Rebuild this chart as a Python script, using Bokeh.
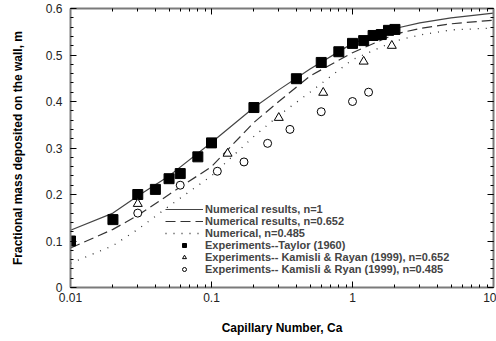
from bokeh.plotting import figure
from bokeh.models import (Range1d, FixedTicker, LinearAxis, LogAxis, Legend, LegendItem)
from bokeh.embed import file_html
from bokeh.resources import INLINE

# Numerical curves
ca_curve = [0.01, 0.02, 0.03, 0.05, 0.1, 0.2, 0.3, 0.5, 1, 2, 3, 5, 10]
m_n1 = [0.123, 0.160, 0.197, 0.240, 0.312, 0.387, 0.425, 0.470, 0.525, 0.557, 0.569, 0.580, 0.590]
m_n0652 = [0.085, 0.125, 0.155, 0.200, 0.260, 0.355, 0.400, 0.455, 0.505, 0.545, 0.557, 0.567, 0.575]
m_n0485 = [0.052, 0.090, 0.125, 0.175, 0.240, 0.325, 0.370, 0.420, 0.490, 0.530, 0.543, 0.554, 0.558]

# Experiments -- Taylor (1960)
ca_taylor = [0.01, 0.02, 0.03, 0.04, 0.05, 0.06, 0.08, 0.1, 0.2, 0.4, 0.6, 0.8, 1.0, 1.2, 1.4, 1.6, 1.8, 2.0]
m_taylor = [0.100, 0.146, 0.200, 0.211, 0.234, 0.245, 0.281, 0.311, 0.387, 0.449, 0.484, 0.507, 0.525, 0.531, 0.542, 0.544, 0.553, 0.555]

# Experiments -- Kamisli & Rayan (1999), n=0.652
ca_k652 = [0.03, 0.13, 0.3, 0.62, 1.2, 1.9]
m_k652 = [0.180, 0.288, 0.365, 0.419, 0.486, 0.520]

# Experiments -- Kamisli & Ryan (1999), n=0.485
ca_k485 = [0.03, 0.06, 0.11, 0.17, 0.25, 0.36, 0.6, 1.0, 1.3]
m_k485 = [0.160, 0.220, 0.250, 0.270, 0.310, 0.340, 0.378, 0.400, 0.420]

x_ticks = [0.01, 0.1, 1, 10]
x_tick_labels = ["0.01", "0.1", "1", "10"]
y_ticks = [0, 0.1, 0.2, 0.3, 0.4, 0.5, 0.6]
y_tick_labels = ["0", "0.1", "0.2", "0.3", "0.4", "0.5", "0.6"]

labels = ["Numerical results, n=1", "Numerical results, n=0.652", "Numerical, n=0.485",
          "Experiments--Taylor (1960)", "Experiments-- Kamisli & Rayan (1999), n=0.652",
          "Experiments-- Kamisli & Ryan (1999), n=0.485"]

FONT = "Liberation Sans"
AX = "#7a7a7a"

p = figure(width=496, height=341, x_axis_type="log", output_backend="svg",
           toolbar_location=None, x_range=Range1d(0.01, 10), y_range=Range1d(0, 0.6),
           min_border_left=70, min_border_right=3, min_border_top=8, min_border_bottom=54,
           x_axis_label="Capillary Number, Ca",
           y_axis_label="Fractional mass deposited on the wall, m")
p.grid.visible = False
p.outline_line_color = None

minor_x = [m * 10.0 ** e for e in (-2, -1, 0) for m in range(2, 10)]
minor_y = [round(i * 0.02, 2) for i in range(31)]


def style(ax):
    ax.axis_line_color = AX
    ax.axis_line_width = 2
    ax.major_tick_in = 6
    ax.major_tick_out = 0
    ax.minor_tick_in = 3
    ax.minor_tick_out = 0
    ax.major_tick_line_color = "black"
    ax.minor_tick_line_color = "black"
    ax.major_label_text_font = FONT
    ax.major_label_text_font_size = "12px"
    ax.major_label_text_color = "#222222"
    ax.axis_label_text_font = FONT
    ax.axis_label_text_font_size = "12px"
    ax.axis_label_text_font_style = "bold"
    ax.axis_label_text_color = "black"


p.xaxis.ticker = FixedTicker(ticks=x_ticks, minor_ticks=minor_x)
p.xaxis.major_label_overrides = dict(zip(x_ticks, x_tick_labels))
p.xaxis.major_label_standoff = 5
p.xaxis.axis_label_standoff = 16
p.yaxis.ticker = FixedTicker(ticks=y_ticks, minor_ticks=minor_y)
p.yaxis.major_label_overrides = dict(zip(y_ticks, y_tick_labels))
p.yaxis.major_label_standoff = 8
p.yaxis.axis_label_standoff = 18
style(p.xaxis[0])
style(p.yaxis[0])

top = LogAxis(ticker=FixedTicker(ticks=x_ticks, minor_ticks=minor_x))
style(top)
top.major_label_text_font_size = "1px"
top.major_label_text_alpha = 0
top.major_label_standoff = 0
p.add_layout(top, "above")
right = LinearAxis(ticker=FixedTicker(ticks=y_ticks, minor_ticks=minor_y))
style(right)
right.major_label_text_font_size = "1px"
right.major_label_text_alpha = 0
right.major_label_standoff = 0
p.add_layout(right, "right")

r1 = p.line(ca_curve, m_n1, line_color="#444444", line_width=1.2)
r2 = p.line(ca_curve, m_n0652, line_color="#333333", line_width=1.2, line_dash="10 5")
r3 = p.line(ca_curve, m_n0485, line_color="#333333", line_width=1.3, line_dash="1 7")
r4 = p.scatter(ca_taylor, m_taylor, marker="square", size=10, fill_color="black", line_color="black")
r5 = p.scatter(ca_k652, m_k652, marker="triangle", size=9, fill_color="white", line_color="black")
r6 = p.scatter(ca_k485, m_k485, marker="circle", size=8, fill_color="white", line_color="black")

legend = Legend(items=[LegendItem(label=l, renderers=[r]) for l, r in zip(labels, [r1, r2, r3, r4, r5, r6])],
                location=(95, 12), padding=2, margin=0, spacing=0,
                glyph_width=38, glyph_height=10, label_height=10, label_standoff=2,
                label_text_font=FONT, label_text_font_size="11px", label_text_font_style="bold",
                border_line_color=None, background_fill_alpha=0)
p.add_layout(legend, "center")

open("out.html", "w").write(file_html(p, INLINE))
